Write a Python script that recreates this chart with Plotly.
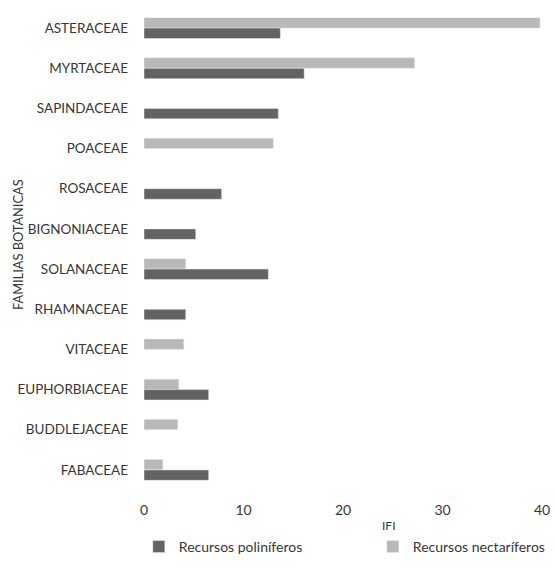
import plotly.graph_objects as go

familias = ["ASTERACEAE", "MYRTACEAE", "SAPINDACEAE", "POACEAE", "ROSACEAE",
            "BIGNONIACEAE", "SOLANACEAE", "RHAMNACEAE", "VITACEAE",
            "EUPHORBIACEAE", "BUDDLEJACEAE", "FABACEAE"]
poliniferos = [13.7, 16.1, 13.5, None, 7.8, 5.2, 12.5, 4.2, None, 6.5, None, 6.5]
nectariferos = [39.8, 27.2, None, 13.0, None, None, 4.2, None, 4.0, 3.5, 3.4, 1.9]
x_ticks = [0, 10, 20, 30, 40]

FONT = "Lato"
TXT = "#363636"

fig = go.Figure()
fig.add_trace(go.Bar(y=familias, x=nectariferos, orientation="h",
                     name="Recursos nectaríferos", marker_color="#b8b8b8",
                     legendrank=2))
fig.add_trace(go.Bar(y=familias, x=poliniferos, orientation="h",
                     name="Recursos poliníferos", marker_color="#636363",
                     legendrank=1))

fig.update_layout(
    width=554, height=567,
    paper_bgcolor="white", plot_bgcolor="white",
    margin=dict(l=144, r=12, t=8, b=77, autoexpand=False),
    barmode="group", bargap=0.48, bargroupgap=0,
    font=dict(family=FONT, size=12, color=TXT),
    showlegend=True,
    legend=dict(orientation="h", x=-0.013, xanchor="left", y=-0.085, yanchor="top",
                entrywidth=189, entrywidthmode="pixels",
                font=dict(size=14, color=TXT), traceorder="normal"),
    xaxis=dict(range=[0, 40], tickvals=x_ticks, showgrid=False, zeroline=False,
               showline=False, ticks="", ticklabelstandoff=10,
               tickfont=dict(size=14, color=TXT)),
    yaxis=dict(autorange="reversed", showgrid=False, showline=False, ticks="",
               ticklabelstandoff=15, tickfont=dict(size=13.5, color=TXT)),
    annotations=[
        dict(text="IFI", x=0.615, y=-0.0745, xref="paper", yref="paper",
             showarrow=False, xanchor="center", yanchor="middle",
             font=dict(size=12, color=TXT)),
        dict(text="FAMILIAS BOTANICAS", x=-0.317, y=0.51, xref="paper", yref="paper",
             showarrow=False, textangle=-90, xanchor="center", yanchor="middle",
             font=dict(size=12.8, color=TXT)),
    ],
)

fig.write_html(
    "out.html",
    config={"displayModeBar": False},
    post_script="document.body.style.margin='0';document.body.style.overflow='hidden';",
)
